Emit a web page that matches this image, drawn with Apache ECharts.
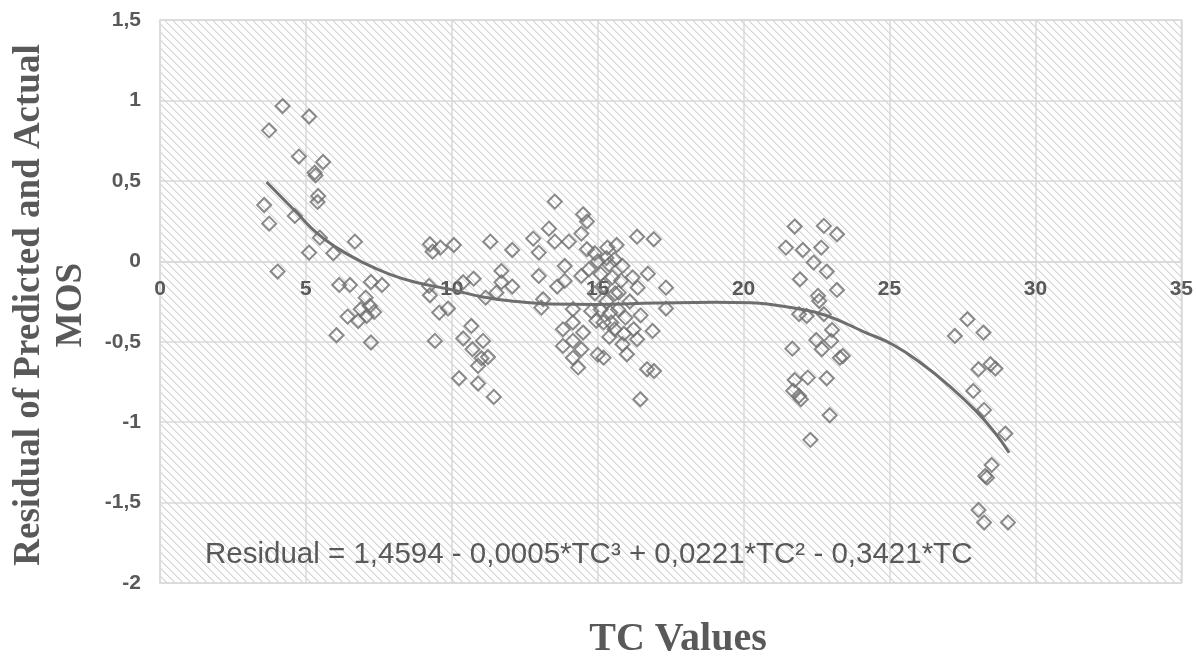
<!DOCTYPE html>
<html>
<head>
<meta charset="utf-8">
<script src="https://cdn.jsdelivr.net/npm/echarts@6/dist/echarts.min.js"></script>
<style>
html,body{margin:0;padding:0;background:#fff;}
#chart{width:1196px;height:659px;}
</style>
</head>
<body>
<div id="chart"></div>
<script>
// ---- data ----
const pointTC = [
  3.74,4.20,5.11,4.76,5.59,5.30,5.33,5.42,5.40,3.57,4.62,3.74,5.48,6.68,5.11,5.94,4.03,6.14,6.51,7.23,7.61,7.05,6.43,6.79,6.88,7.19,7.34,7.08,6.05,7.23,
  9.25,9.34,9.61,10.07,9.22,9.25,9.57,9.87,9.42,10.39,10.75,11.32,12.07,11.70,11.70,12.07,11.16,11.53,10.67,10.39,10.71,11.07,10.90,11.24,11.02,10.25,10.90,11.44,
  12.79,12.98,13.33,13.53,13.53,14.01,14.50,14.63,14.44,14.63,14.90,12.98,13.87,13.87,13.61,14.44,13.13,13.07,13.81,14.15,14.50,13.81,14.15,14.44,14.15,14.33,14.15,14.78,14.95,15.00,
  16.35,16.92,15.65,15.33,15.58,15.85,15.39,16.72,16.37,15.72,17.34,17.34,16.47,16.23,16.35,16.88,16.00,15.20,16.69,16.93,16.46,15.58,15.85,15.43,15.46,
  15.10,15.20,15.30,15.10,15.50,15.60,15.70,15.90,15.40,15.20,14.90,14.70,15.00,15.30,15.80,16.10,16.20,15.95,
  21.75,22.75,23.20,21.45,22.03,22.66,22.40,22.85,21.93,23.20,22.55,21.90,22.16,22.59,22.75,23.03,23.00,22.49,22.68,23.30,23.40,21.67,21.75,22.20,22.85,21.70,21.96,21.90,22.95,22.29,
  27.67,27.24,28.22,28.46,28.63,28.05,27.87,28.24,28.97,28.50,28.34,28.28,28.05,28.24,29.06
];
const pointResidual = [
  0.814,0.965,0.900,0.651,0.617,0.551,0.534,0.406,0.369,0.350,0.282,0.234,0.147,0.122,0.054,0.050,-0.064,-0.147,-0.147,-0.129,-0.147,-0.226,-0.344,-0.371,-0.298,-0.278,-0.315,-0.340,-0.460,-0.505,
  0.106,0.060,0.085,0.101,-0.153,-0.211,-0.319,-0.294,-0.495,-0.130,-0.108,0.122,0.070,-0.060,-0.130,-0.157,-0.226,-0.195,-0.402,-0.480,-0.547,-0.495,-0.650,-0.595,-0.603,-0.727,-0.760,-0.843,
  0.141,0.054,0.203,0.371,0.122,0.122,0.292,0.247,0.172,0.075,0.050,-0.091,-0.029,-0.122,-0.157,-0.091,-0.236,-0.288,-0.423,-0.381,-0.443,-0.526,-0.495,-0.547,-0.600,-0.660,-0.298,-0.310,-0.370,-0.580,
  0.153,0.137,0.101,0.085,0.012,-0.029,-0.019,-0.077,-0.164,-0.195,-0.164,-0.294,-0.336,-0.423,-0.485,-0.433,-0.578,-0.599,-0.671,-0.682,-0.858,-0.423,-0.516,-0.319,-0.381,
  -0.080,-0.150,-0.250,-0.300,-0.100,-0.200,-0.300,-0.450,-0.470,-0.380,-0.200,-0.050,0.000,0.020,-0.120,-0.250,-0.100,-0.350,
  0.216,0.220,0.168,0.085,0.070,0.085,-0.008,-0.064,-0.112,-0.178,-0.215,-0.329,-0.340,-0.247,-0.329,-0.427,-0.495,-0.489,-0.547,-0.600,-0.589,-0.543,-0.738,-0.723,-0.727,-0.805,-0.858,-0.837,-0.957,-1.110,
  -0.360,-0.464,-0.443,-0.640,-0.667,-0.671,-0.806,-0.924,-1.071,-1.266,-1.345,-1.335,-1.546,-1.624,-1.624
];
const trendTC = [3.65,4.68,5.36,6.05,6.96,7.88,8.79,9.93,11.07,12.21,13.36,14.95,17.0,19.0,20.27,21.05,21.97,22.88,24.18,25.09,26.13,27.05,27.96,28.61,29.10];
const trendResidual = [0.493,0.303,0.178,0.085,-0.008,-0.081,-0.132,-0.174,-0.222,-0.250,-0.265,-0.268,-0.260,-0.255,-0.258,-0.272,-0.298,-0.340,-0.443,-0.516,-0.640,-0.775,-0.930,-1.065,-1.190];
const xTicks = {min: 0, max: 35, step: 5};
const yTicks = {min: -2, max: 1.5, step: 0.5};
const xTitle = 'TC Values';
const yTitleLines = ['Residual of Predicted and Actual', 'MOS'];
const equationText = 'Residual = 1,4594 - 0,0005*TC³ + 0,0221*TC² - 0,3421*TC';

// ---- hatch pattern ----
const pc = document.createElement('canvas');
pc.width = 8; pc.height = 8;
const ctx = pc.getContext('2d');
ctx.fillStyle = '#ffffff';
ctx.fillRect(0, 0, 8, 8);
for (let i = 0; i < 8; i++) {
  ctx.fillStyle = '#d4d4d4';
  ctx.fillRect(i, i, 1, 1);
  ctx.fillStyle = '#e9e9e9';
  ctx.fillRect((i + 1) % 8, i, 1, 1);
}

const scatterData = pointTC.map((x, i) => [x, pointResidual[i]]);
const trendData = trendTC.map((x, i) => [x, trendResidual[i]]);

const gridLineColor = '#d9d9d9';
const textColor = '#595959';
const markColor = '#6e6e6e';

const gridTop = 20, gridBottom = 76, chartH = 659;
const plotH = chartH - gridTop - gridBottom;
// move the x axis (line + labels) up to the y = 0 position
const xAxisOffset = -plotH * (0 - yTicks.min) / (yTicks.max - yTicks.min);

const chart = echarts.init(document.getElementById('chart'), null, {renderer: 'canvas'});
chart.setOption({
  animation: false,
  grid: {
    left: 160, right: 14, top: gridTop, bottom: gridBottom,
    show: true,
    backgroundColor: {image: pc, repeat: 'repeat'},
    borderColor: gridLineColor,
    borderWidth: 1.5
  },
  xAxis: {
    type: 'value',
    min: xTicks.min, max: xTicks.max, interval: xTicks.step,
    offset: xAxisOffset,
    axisLine: {onZero: false, lineStyle: {color: gridLineColor, width: 1.5}},
    axisTick: {show: false},
    splitLine: {show: true, lineStyle: {color: gridLineColor, width: 1.5}},
    axisLabel: {
      color: textColor, fontFamily: 'Liberation Sans, Arial', fontWeight: 'bold', fontSize: 21,
      margin: 17
    }
  },
  yAxis: {
    type: 'value',
    min: yTicks.min, max: yTicks.max, interval: yTicks.step,
    axisLine: {show: false},
    axisTick: {show: false},
    splitLine: {show: true, lineStyle: {color: gridLineColor, width: 1.5}},
    axisLabel: {
      color: textColor, fontFamily: 'Liberation Sans, Arial', fontWeight: 'bold', fontSize: 21,
      margin: 19,
      formatter: v => String(v).replace('.', ',')
    }
  },
  graphic: [
    {
      type: 'text', x: 29, y: 305, rotation: Math.PI / 2,
      style: {text: yTitleLines[0], fill: textColor, font: 'bold 37px "Liberation Serif", "Times New Roman", serif',
        textAlign: 'center', textVerticalAlign: 'middle'}
    },
    {
      type: 'text', x: 71, y: 305, rotation: Math.PI / 2,
      style: {text: yTitleLines[1], fill: textColor, font: 'bold 37px "Liberation Serif", "Times New Roman", serif',
        textAlign: 'center', textVerticalAlign: 'middle'}
    },
    {
      type: 'text', x: 678, y: 640,
      style: {text: xTitle, fill: textColor, font: 'bold 40px "Liberation Serif", "Times New Roman", serif',
        textAlign: 'center', textVerticalAlign: 'middle'}
    },
    {
      type: 'text', x: 205, y: 555, z: 10,
      style: {text: equationText, fill: textColor, font: '29.5px "Liberation Sans", Arial, sans-serif',
        textAlign: 'left', textVerticalAlign: 'middle'}
    }
  ],
  series: [
    {
      type: 'scatter',
      data: scatterData,
      symbol: 'diamond',
      symbolSize: 14,
      itemStyle: {color: 'rgba(0,0,0,0)', borderColor: markColor, borderWidth: 2},
      z: 3
    },
    {
      type: 'line',
      data: trendData,
      smooth: true,
      showSymbol: false,
      symbol: 'none',
      lineStyle: {color: markColor, width: 3},
      z: 4
    }
  ]
});
</script>
</body>
</html>
